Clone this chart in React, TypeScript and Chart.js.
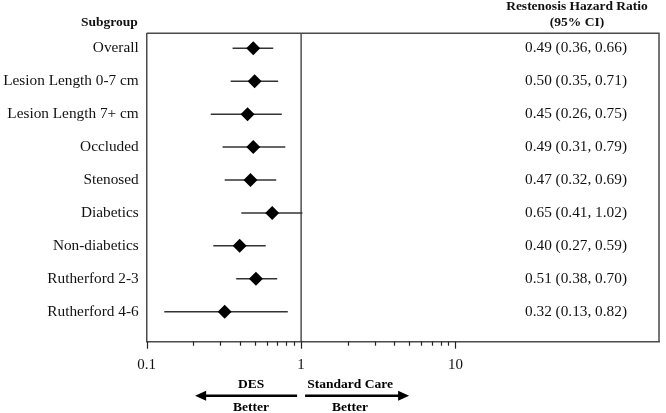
import React, { useEffect, useRef } from 'react';
import { Chart, registerables } from 'chart.js';

Chart.register(...registerables);

const subgroups = [
  'Overall',
  'Lesion Length 0-7 cm',
  'Lesion Length 7+ cm',
  'Occluded',
  'Stenosed',
  'Diabetics',
  'Non-diabetics',
  'Rutherford 2-3',
  'Rutherford 4-6',
];
const hazardRatio = [0.49, 0.5, 0.45, 0.49, 0.47, 0.65, 0.4, 0.51, 0.32];
const ciLower = [0.36, 0.35, 0.26, 0.31, 0.32, 0.41, 0.27, 0.38, 0.13];
const ciUpper = [0.66, 0.71, 0.75, 0.79, 0.69, 1.02, 0.59, 0.7, 0.82];
const xTickValues = [0.1, 1, 10];
const xMinorTicks = [0.2, 0.3, 0.4, 0.5, 0.6, 0.7, 0.8, 0.9, 2, 3, 4, 5, 6, 7, 8, 9];
const xMin = 0.1;
const xMax = 208;
const referenceValue = 1;
const headerLeft = 'Subgroup';
const headerRight = ['Restenosis Hazard Ratio', '(95% CI)'];
const leftArrowLabel = ['DES', 'Better'];
const rightArrowLabel = ['Standard Care', 'Better'];

const SERIF = '"Liberation Serif", "Times New Roman", serif';
const LINE = '#4a4a4a';

const fmt = (v: number) => v.toFixed(2);

const forestPlugin = {
  id: 'forest',
  beforeDatasetsDraw(chart: any) {
    const { ctx, chartArea, scales } = chart;
    const xs = scales.x;
    const ys = scales.y;
    ctx.save();
    // reference line
    const x1 = xs.getPixelForValue(referenceValue);
    ctx.strokeStyle = '#222';
    ctx.lineWidth = 1.2;
    ctx.beginPath();
    ctx.moveTo(x1, chartArea.top);
    ctx.lineTo(x1, chartArea.bottom);
    ctx.stroke();
    // CI lines
    ctx.strokeStyle = '#333';
    ctx.lineWidth = 1.5;
    for (let i = 0; i < subgroups.length; i++) {
      const y = ys.getPixelForValue(i);
      ctx.beginPath();
      ctx.moveTo(xs.getPixelForValue(ciLower[i]), y);
      ctx.lineTo(xs.getPixelForValue(ciUpper[i]), y);
      ctx.stroke();
    }
    ctx.restore();
  },
  afterDraw(chart: any) {
    const { ctx, chartArea, scales } = chart;
    const xs = scales.x;
    const ys = scales.y;
    ctx.save();
    // top & right border
    ctx.strokeStyle = LINE;
    ctx.lineWidth = 1.5;
    ctx.beginPath();
    ctx.moveTo(chartArea.left, chartArea.top);
    ctx.lineTo(chartArea.right, chartArea.top);
    ctx.lineTo(chartArea.right, chartArea.bottom);
    ctx.stroke();
    // tick marks
    ctx.strokeStyle = '#222';
    ctx.lineWidth = 1.2;
    const drawTick = (v: number, len: number) => {
      const px = Math.round(xs.getPixelForValue(v)) + 0.5;
      ctx.beginPath();
      ctx.moveTo(px, chartArea.bottom);
      ctx.lineTo(px, chartArea.bottom + len);
      ctx.stroke();
    };
    xTickValues.forEach((v) => drawTick(v, 7));
    xMinorTicks.forEach((v) => drawTick(v, 4));

    // right column text
    ctx.fillStyle = '#111';
    ctx.textAlign = 'center';
    ctx.textBaseline = 'middle';
    ctx.font = `15.3px ${SERIF}`;
    const colX = chartArea.right - 83;
    for (let i = 0; i < subgroups.length; i++) {
      const y = ys.getPixelForValue(i);
      ctx.fillText(`${fmt(hazardRatio[i])} (${fmt(ciLower[i])}, ${fmt(ciUpper[i])})`, colX, y);
    }
    // headers
    ctx.font = `bold 13.5px ${SERIF}`;
    ctx.fillText(headerRight[0], colX + 1, chartArea.top - 27);
    ctx.fillText(headerRight[1], colX + 1, chartArea.top - 11);
    ctx.textAlign = 'right';
    ctx.fillText(headerLeft, chartArea.left - 9, chartArea.top - 11);

    // arrows
    const x1 = xs.getPixelForValue(referenceValue);
    const ay = chartArea.bottom + 54;
    ctx.fillStyle = '#000';
    ctx.strokeStyle = '#000';
    ctx.lineWidth = 2.5;
    const arrow = (from: number, to: number) => {
      const dir = Math.sign(to - from);
      ctx.beginPath();
      ctx.moveTo(from, ay);
      ctx.lineTo(to - dir * 8, ay);
      ctx.stroke();
      ctx.beginPath();
      ctx.moveTo(to, ay);
      ctx.lineTo(to - dir * 11, ay - 5);
      ctx.lineTo(to - dir * 11, ay + 5);
      ctx.closePath();
      ctx.fill();
    };
    arrow(x1 - 4, x1 - 106);
    arrow(x1 + 4, x1 + 108);
    ctx.textAlign = 'center';
    ctx.font = `bold 13.5px ${SERIF}`;
    ctx.fillText(leftArrowLabel[0], x1 - 50, ay - 11);
    ctx.fillText(leftArrowLabel[1], x1 - 50, ay + 12);
    ctx.fillText(rightArrowLabel[0], x1 + 49, ay - 11);
    ctx.fillText(rightArrowLabel[1], x1 + 49, ay + 12);
    ctx.restore();
  },
};

export default function App() {
  const canvasRef = useRef<HTMLCanvasElement | null>(null);

  useEffect(() => {
    document.body.style.margin = '0';
    const canvas = canvasRef.current;
    if (!canvas) return;
    const chart = new Chart(canvas, {
      type: 'scatter',
      data: {
        datasets: [
          {
            data: hazardRatio.map((v, i) => ({ x: v, y: i })),
            pointStyle: 'rectRot',
            pointRadius: 7,
            pointHoverRadius: 7,
            backgroundColor: '#000',
            borderColor: '#000',
            borderWidth: 0,
          },
        ],
      },
      options: {
        responsive: false,
        animation: false,
        events: [],
        layout: { padding: { top: 33.3, right: 4, left: 0, bottom: 0 } },
        plugins: { legend: { display: false }, tooltip: { enabled: false } },
        scales: {
          x: {
            type: 'logarithmic',
            min: xMin,
            max: xMax,
            grid: { display: false, drawTicks: false },
            border: { display: true, color: LINE, width: 1.5 },
            afterBuildTicks: (scale: any) => {
              scale.ticks = xTickValues.map((v) => ({ value: v }));
            },
            afterFit: (scale: any) => {
              scale.height = 71.3;
            },
            ticks: {
              autoSkip: false,
              maxRotation: 0,
              padding: 14,
              color: '#111',
              font: { family: SERIF, size: 15 },
              callback: (value: any) => (xTickValues.includes(Number(value)) ? String(value) : ''),
            },
          },
          y: {
            type: 'linear',
            min: -0.455,
            max: 8.911,
            reverse: true,
            grid: { display: false, drawTicks: false },
            border: { display: true, color: LINE, width: 1.5 },
            afterBuildTicks: (scale: any) => {
              scale.ticks = subgroups.map((_, i) => ({ value: i }));
            },
            afterFit: (scale: any) => {
              scale.width = 146.7;
            },
            ticks: {
              autoSkip: false,
              padding: 8,
              color: '#111',
              font: { family: SERIF, size: 15.3 },
              callback: (value: any) => subgroups[Number(value)] ?? '',
            },
          },
        },
      },
      plugins: [forestPlugin],
    });
    return () => chart.destroy();
  }, []);

  return (
    <div style={{ width: 666, height: 413, background: '#fff' }}>
      <canvas ref={canvasRef} width={666} height={413} style={{ display: 'block' }} />
    </div>
  );
}
